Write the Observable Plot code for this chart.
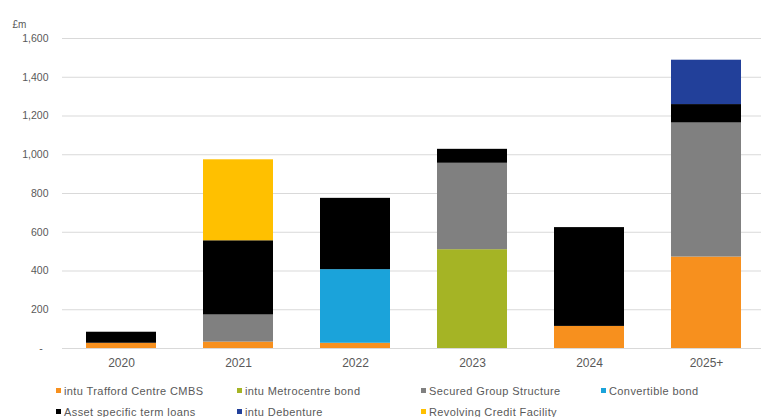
<!DOCTYPE html>
<html>
<head>
<meta charset="utf-8">
<script src="https://cdn.jsdelivr.net/npm/d3@7"></script>
<script src="https://cdn.jsdelivr.net/npm/@observablehq/plot@0.6"></script>
<style>
  html, body { margin: 0; padding: 0; background: #fff; }
  #wrap { width: 761px; height: 417px; position: relative; overflow: hidden; font-family: "Liberation Sans", Arial, sans-serif; }
  #legend { display: grid; grid-template-columns: 181px 184px 180px 150px; grid-auto-rows: 21px; padding-left: 56px; padding-top: 8px; font-size: 11px; letter-spacing: 0.4px; color: #595959; }
  .item { display: flex; align-items: center; white-space: nowrap; }
  .sw { width: 5px; height: 5px; margin-right: 3px; flex: none; }
</style>
</head>
<body>
<div id="wrap"><div id="chart"></div><div id="legend"></div></div>
<script>
const years = ["2020", "2021", "2022", "2023", "2024", "2025+"];
const seriesNames = [
  "intu Trafford Centre CMBS",
  "intu Metrocentre bond",
  "Secured Group Structure",
  "Convertible bond",
  "Asset specific term loans",
  "intu Debenture",
  "Revolving Credit Facility"
];
const seriesColors = ["#F7901E", "#A5B425", "#808080", "#1BA3DA", "#000000", "#22409A", "#FFC000"];
const trafford    = [27, 33, 27, 0, 114, 472];
const metrocentre = [0, 0, 0, 510, 0, 0];
const secured     = [0, 140, 0, 446, 0, 692];
const convertible = [0, 0, 380, 0, 0, 0];
const assetLoans  = [57, 383, 368, 72, 510, 95];
const debenture   = [0, 0, 0, 0, 0, 229];
const rcf         = [0, 418, 0, 0, 0, 0];
const yTicks = [0, 200, 400, 600, 800, 1000, 1200, 1400, 1600];
const legendOrder = [
  "intu Trafford Centre CMBS", "intu Metrocentre bond", "Secured Group Structure", "Convertible bond",
  "Asset specific term loans", "intu Debenture", "Revolving Credit Facility"
];

const seriesValues = [trafford, metrocentre, secured, convertible, assetLoans, debenture, rcf];
const rows = [];
seriesNames.forEach((s, i) => {
  years.forEach((y, j) => {
    rows.push({year: y, series: s, value: seriesValues[i][j]});
  });
});

const fmt = d3.format(",");
const chart = Plot.plot({
  width: 761,
  height: 372,
  marginLeft: 62,
  marginRight: 0,
  marginTop: 38,
  marginBottom: 24,
  style: {fontFamily: "Liberation Sans, Arial, sans-serif", fontSize: "10px", color: "#595959", background: "#fff"},
  x: {domain: years, range: [62, 766], paddingInner: 0.4, paddingOuter: 0.2, label: null},
  y: {domain: [0, 1600], label: null},
  color: {domain: seriesNames, range: seriesColors},
  marks: [
    Plot.ruleY(yTicks, {stroke: "#d9d9d9", strokeWidth: 1}),
    Plot.barY(rows, {x: "year", y: "value", fill: "series", order: seriesNames}),
    Plot.axisY({ticks: yTicks, tickSize: 0, tickPadding: 14, fontSize: 10.5, tickFormat: d => d === 0 ? "-\u00a0\u00a0" : fmt(d), fill: "#595959", label: null}),
    Plot.axisX({tickSize: 0, tickPadding: 10, fontSize: 12, fill: "#595959", label: null}),
    Plot.text(["£m"], {frameAnchor: "top-left", dx: -50, dy: -18, textAnchor: "start", fill: "#595959", fontSize: 10})
  ]
});
document.getElementById("chart").appendChild(chart);

const legend = document.getElementById("legend");
legendOrder.forEach((name, k) => {
  const item = document.createElement("div");
  item.className = "item";
  if (k === 4) item.style.gridColumn = "1";
  const sw = document.createElement("span");
  sw.className = "sw";
  sw.style.background = seriesColors[seriesNames.indexOf(name)];
  const t = document.createElement("span");
  t.textContent = name;
  item.appendChild(sw);
  item.appendChild(t);
  legend.appendChild(item);
});
</script>
</body>
</html>
